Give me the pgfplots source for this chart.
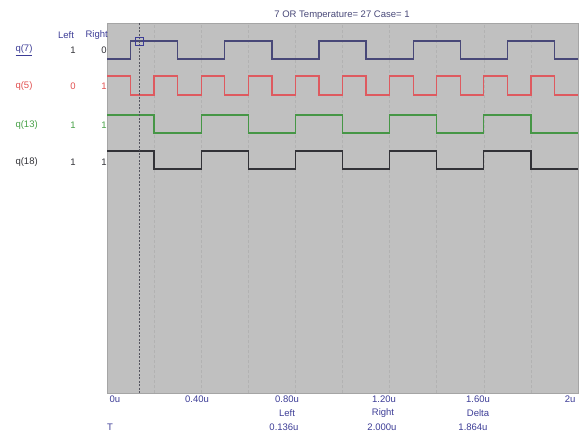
\documentclass[border=0pt]{standalone}
\usepackage{pgfplots}
\usepackage{pgfplotstable}
\pgfplotsset{compat=1.18}
\usepackage{fontspec}
\setmainfont{Liberation Sans}
\definecolor{bggray}{RGB}{192,192,192}
\definecolor{gridgray}{RGB}{178,178,178}
\definecolor{axisgray}{RGB}{165,165,165}
\definecolor{traceblue}{RGB}{72,72,120}
\definecolor{tracered}{RGB}{222,90,95}
\definecolor{tracegreen}{RGB}{70,150,70}
\definecolor{traceblack}{RGB}{50,50,55}
\definecolor{labnavy}{RGB}{60,60,150}
\definecolor{labred}{RGB}{225,80,80}
\definecolor{labgreen}{RGB}{70,160,70}
\definecolor{cursorgray}{RGB}{85,85,95}

\pgfplotstableread{
t v
0 0
0.1 1
0.3 0
0.5 1
0.7 0
0.9 1
1.1 0
1.3 1
1.5 0
1.7 1
1.9 0
2.0 0
}\qseven
\pgfplotstableread{
t v
0 1
0.1 0
0.2 1
0.3 0
0.4 1
0.5 0
0.6 1
0.7 0
0.8 1
0.9 0
1.0 1
1.1 0
1.2 1
1.3 0
1.4 1
1.5 0
1.6 1
1.7 0
1.8 1
1.9 0
2.0 0
}\qfive
\pgfplotstableread{
t v
0 1
0.2 0
0.4 1
0.6 0
0.8 1
1.0 0
1.2 1
1.4 0
1.6 1
1.8 0
2.0 0
}\qthirteen
\pgfplotstableread{
t v
0 1
0.2 0
0.4 1
0.6 0
0.8 1
1.0 0
1.2 1
1.4 0
1.6 1
1.8 0
2.0 0
}\qeighteen

\begin{document}
\begin{tikzpicture}[x=1pt,y=1pt,font=\fontsize{9.5}{11}\selectfont]
\useasboundingbox (0,0) rectangle (580,434);
\begin{axis}[
  at={(107pt,41pt)}, anchor=south west,
  scale only axis, width=471pt, height=370pt,
  xmin=0, xmax=2, ymin=0, ymax=370,
  axis background/.style={fill=bggray},
  axis line style={draw=axisgray, line width=0.6pt},
  xtick={0.2,0.4,0.6,0.8,1.0,1.2,1.4,1.6,1.8},
  xticklabels={}, ytick=\empty,
  major tick length=0pt,
  xmajorgrids,
  grid style={dash pattern=on 3pt off 2pt, gridgray, line width=0.6pt},
  clip=false,
]
\addplot[const plot, draw=traceblue, line width=1.3pt] table[x=t, y expr=334+18*\thisrow{v}] {\qseven};
\addplot[const plot, draw=tracered, line width=1.3pt] table[x=t, y expr=298+19*\thisrow{v}] {\qfive};
\addplot[const plot, draw=tracegreen, line width=1.3pt] table[x=t, y expr=260+18*\thisrow{v}] {\qthirteen};
\addplot[const plot, draw=traceblack, line width=1.3pt] table[x=t, y expr=224+18*\thisrow{v}] {\qeighteen};
% left cursor
\addplot[draw=cursorgray, line width=0.8pt, dash pattern=on 2pt off 1.5pt] coordinates {(0.136,0) (0.136,370)};
\addplot[only marks, mark=square, mark size=4pt, mark options={draw=labnavy, line width=0.8pt}] coordinates {(0.136,352)};
\end{axis}
% title
\node[text=traceblue] at (342,419) {7 OR Temperature= 27 Case= 1};
% header
\node[text=labnavy] at (66,399) {Left};
\node[text=labnavy, anchor=west] at (82,399) {Right};
% labels
\node[text=labnavy, anchor=west] at (12,384) {\underline{q(7)}};
\node[text=traceblack] at (73,384) {1};
\node[text=traceblack] at (104,384) {0};
\node[text=labred, anchor=west] at (12,348) {q(5)};
\node[text=labred] at (73,348) {0};
\node[text=labred] at (104,348) {1};
\node[text=labgreen, anchor=west] at (12,309) {q(13)};
\node[text=labgreen] at (73,309) {1};
\node[text=labgreen] at (104,309) {1};
\node[text=traceblack, anchor=west] at (12,272) {q(18)};
\node[text=traceblack] at (73,272) {1};
\node[text=traceblack] at (104,272) {1};
% x tick labels
\node[text=labnavy, anchor=west] at (106,35) {0u};
\node[text=labnavy] at (197,35) {0.40u};
\node[text=labnavy] at (287,35) {0.80u};
\node[text=labnavy] at (384,35) {1.20u};
\node[text=labnavy] at (478,35) {1.60u};
\node[text=labnavy, anchor=east] at (579,35) {2u};
% cursor readout
\node[text=labnavy] at (287,21) {Left};
\node[text=labnavy] at (383,21) {Right};
\node[text=labnavy] at (478,21) {Delta};
\node[text=labnavy] at (110,7) {T};
\node[text=labnavy] at (284,7) {0.136u};
\node[text=labnavy] at (382,7) {2.000u};
\node[text=labnavy] at (473,7) {1.864u};
\end{tikzpicture}
\end{document}
